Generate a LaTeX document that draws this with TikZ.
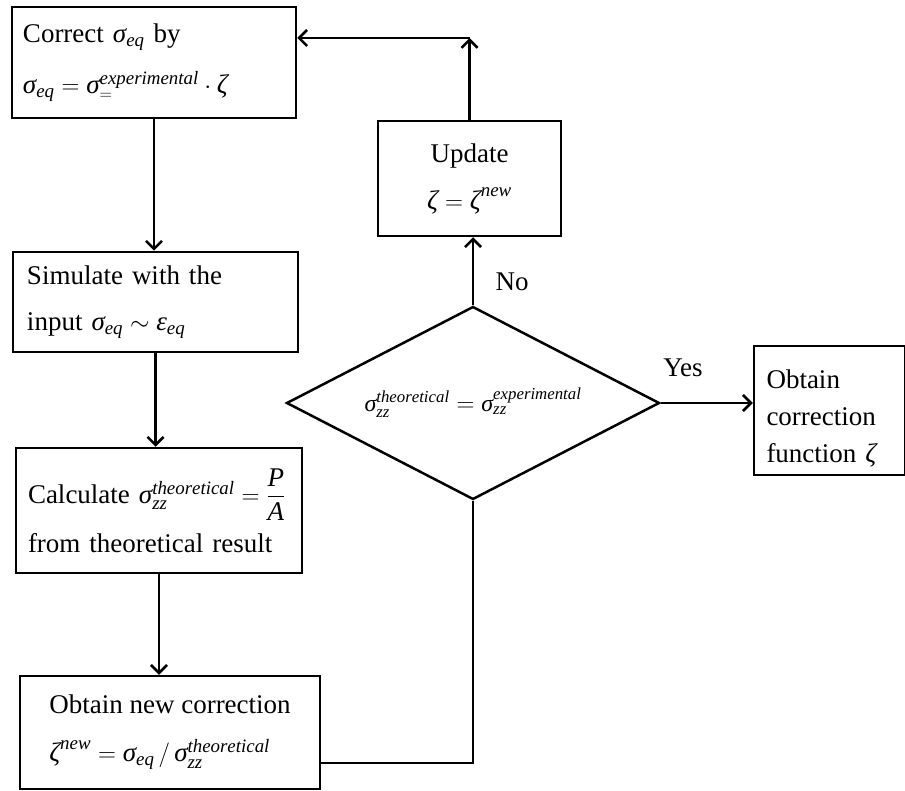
\documentclass[tikz,border=0pt]{standalone}
\usepackage{amsmath}
\usepackage{fontspec}
\setmainfont{Liberation Serif}
\usetikzlibrary{arrows.meta,shapes.geometric}
\newcommand\Sig{\textit{σ}}
\newcommand\Zet{\textit{ζ}}
\newcommand\Eps{\textit{ε}}
\begin{document}
\begin{tikzpicture}[x=1pt,y=-1pt,
  every node/.style={font=\fontsize{27}{33}\selectfont},
  box/.style={draw,line width=2.5pt,rectangle,inner sep=0pt,align=left},
  flow/.style={line width=2.5pt,-{Straight Barb[length=8pt,width=16pt]}},
  plain/.style={line width=2.5pt}]
\useasboundingbox (0,0) rectangle (905,791);
\fill[white] (0,0) rectangle (905,791);

\node[box,minimum width=284pt,minimum height=111pt,text width=262pt] (b1) at (154,62.5)
  {Correct $\Sig_{\mathit{eq}}$ by\\[18pt]
   $\Sig_{\mathit{eq}}=\Sig_{=}^{\mathit{experimental}}\cdot\Zet$};
\node[box,minimum width=285pt,minimum height=100pt,text width=257pt] (b2) at (155.5,302)
  {Simulate with the\\[13pt]
   input $\Sig_{\mathit{eq}}\sim\Eps_{\mathit{eq}}$};
\node[box,minimum width=286pt,minimum height=125pt,text width=262pt] (b3) at (159,510.5)
  {Calculate $\Sig_{\mathit{zz}}^{\mathit{theoretical}}=\dfrac{\mathit{P}}{\mathit{A}}$\\[12pt]
   from theoretical result};
\node[box,minimum width=300pt,minimum height=113pt] (b4) at (170,732.5)
  {Obtain new correction\\[15pt]
   $\Zet^{\mathit{new}}=\Sig_{\mathit{eq}}\,/\,\Sig_{\mathit{zz}}^{\mathit{theoretical}}$};
\node[box,align=center,minimum width=183pt,minimum height=115pt] (upd) at (469.5,178.5)
  {Update\\[14pt] $\Zet=\Zet^{\mathit{new}}$};
\node[draw,line width=2.5pt,diamond,aspect=1.93,inner sep=0pt,
  minimum width=373pt,minimum height=193pt,font=\fontsize{24}{30}\selectfont] (d) at (473,403)
  {$\Sig_{\mathit{zz}}^{\mathit{theoretical}}=\Sig_{\mathit{zz}}^{\mathit{experimental}}$};
\node[box,minimum width=151pt,minimum height=129pt,text width=126pt] (yes) at (829.5,410.5)
  {\rule{0pt}{34pt}Obtain\\[4pt]correction\\[4pt]function $\Zet$};

\node (no) at (512,282) {No};
\node (yl) at (683,368) {Yes};

\coordinate (c1) at (469.5,38);
\coordinate (c4) at (473,763);

\draw[flow] (b1.south) -- (b1.south |- b2.north);
\draw[flow] (b2.south) -- (b2.south |- b3.north);
\draw[flow] (b3.south) -- (b3.south |- b4.north);
\draw[plain] (b4.east |- c4) -- (c4) -- (d.south);
\draw[flow] (d.north) -- (d.north |- upd.south);
\draw[flow] (d.east) -- (yes.west |- d.east);
\draw[flow] (upd.north) -- (c1);
\draw[flow] (c1) -- (b1.east |- c1);
\end{tikzpicture}
\end{document}
